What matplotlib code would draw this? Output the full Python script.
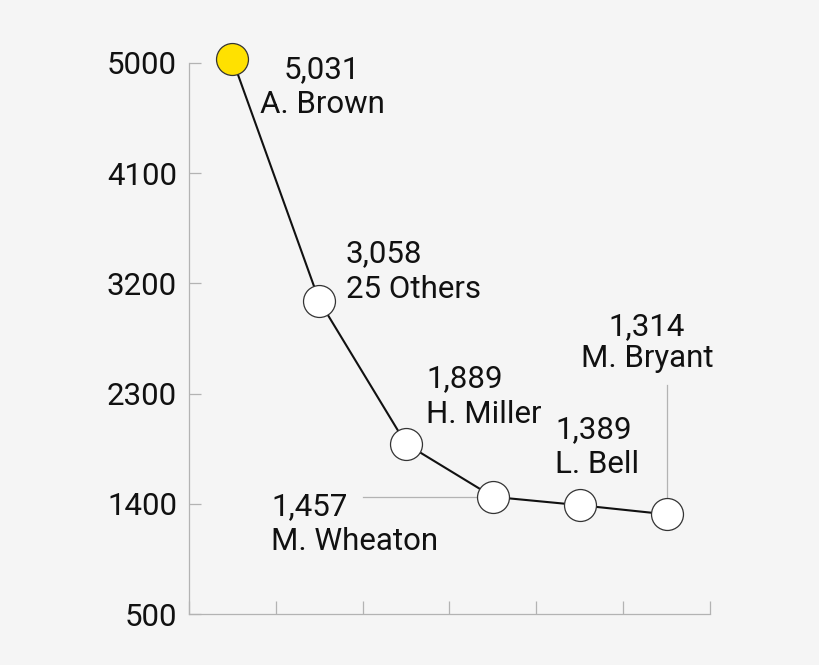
import matplotlib
matplotlib.use("Agg")
import matplotlib.pyplot as plt

# ---- data ----
names = ["A. Brown", "25 Others", "H. Miller", "M. Wheaton", "L. Bell", "M. Bryant"]
values = [5031, 3058, 1889, 1457, 1389, 1314]
value_labels = ["5,031", "3,058", "1,889", "1,457", "1,389", "1,314"]
yticks = [500, 1400, 2300, 3200, 4100, 5000]

# ---- style ----
BG = "#f5f5f5"
GRID = "#b3b3b3"
FONT = "Roboto"
FS = 22.5

plt.rcParams['font.family'] = [FONT, 'DejaVu Sans']

fig = plt.figure(figsize=(8.2, 6.65), dpi=100, facecolor=BG)
W, H = 820, 665
ax = fig.add_axes([189 / W, (H - 614) / H, (710 - 189) / W, (614 - 63) / H])
ax.set_facecolor(BG)

xs = [i + 0.5 for i in range(len(values))]

ax.set_xlim(0, len(values))
ax.set_ylim(yticks[0], yticks[-1])

# leader lines
ax.plot([xs[3] - 1.5, xs[3]], [values[3], values[3]], color=GRID, lw=0.9, zorder=1)
ax.plot([xs[5], xs[5]], [values[5], values[5] + 1060], color=GRID, lw=0.9, zorder=1)

ax.plot(xs, values, color="#111111", lw=1.5, zorder=2, clip_on=False)
face = ["#ffe100"] + ["white"] * (len(values) - 1)
for x, y, fc in zip(xs, values, face):
    ax.plot([x], [y], marker="o", ms=23, mfc=fc, mec="#333333", mew=0.9,
            zorder=3, clip_on=False)

# spines & ticks
for s in ("top", "right"):
    ax.spines[s].set_visible(False)
for s in ("left", "bottom"):
    ax.spines[s].set_color(GRID)
    ax.spines[s].set_linewidth(0.9)

ax.set_yticks(yticks)
ax.set_yticklabels([str(t) for t in yticks], fontsize=FS, color="#111111")
ax.set_xticks(range(len(values) + 1))
ax.set_xticklabels([])
ax.tick_params(axis="y", direction="in", length=8.6, width=0.9, color=GRID, pad=8.6)
ax.tick_params(axis="x", direction="in", length=9.4, width=0.9, color=GRID)

# annotations: (dx, dy_value, dy_name, ha) in pixels relative to point
offsets = [
    (89.6, -18.8, -53.8, "center"),
    (26.7, 38.8, 2.8, "left"),
    (19.9, 56.9, 20.9, "left"),
    (-221.9, -18.2, -53.2, "left"),
    (-24.8, 67.1, 32.1, "left"),
    (-19.6, 179.3, 147.3, "center"),
]
for x, y, vl, nm, (dx, dv, dn, ha) in zip(xs, values, value_labels, names, offsets):
    ax.annotate(vl, xy=(x, y), xytext=(dx, dv), textcoords="offset pixels",
                ha=ha, va="baseline", fontsize=FS, color="#111111", annotation_clip=False)
    ax.annotate(nm, xy=(x, y), xytext=(dx, dn), textcoords="offset pixels",
                ha=ha, va="baseline", fontsize=FS, color="#111111", annotation_clip=False)

fig.savefig("out.png", dpi=100, facecolor=BG)
